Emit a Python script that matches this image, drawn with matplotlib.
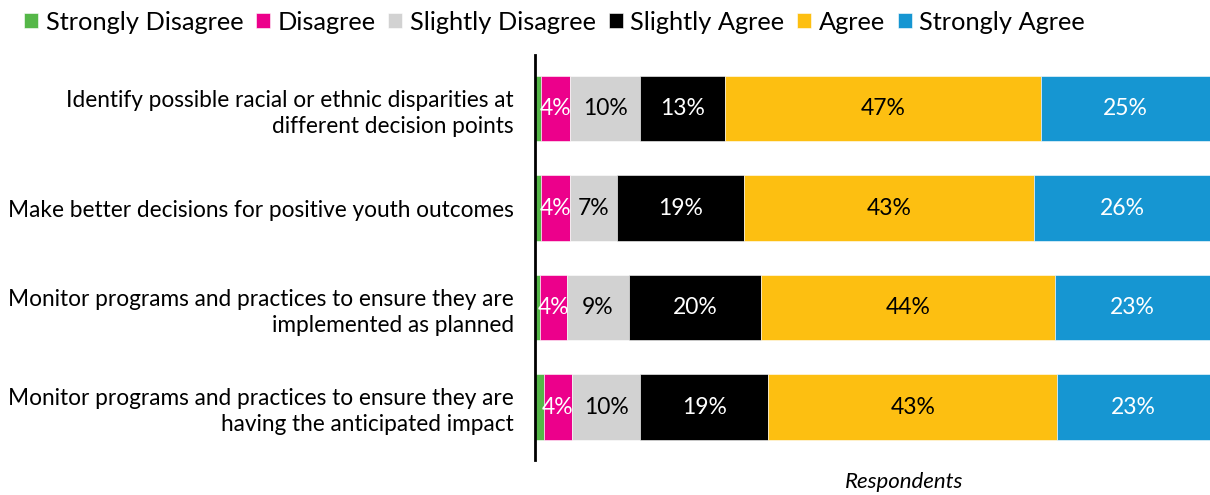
import matplotlib
import matplotlib.pyplot as plt
matplotlib.use('Agg')

plt.rcParams['font.family'] = ['Lato', 'DejaVu Sans']

statements = ['Identify possible racial or ethnic disparities at\ndifferent decision points',
              'Make better decisions for positive youth outcomes',
              'Monitor programs and practices to ensure they are\nimplemented as planned',
              'Monitor programs and practices to ensure they are\nhaving the anticipated impact']
responses = ['Strongly Disagree', 'Disagree', 'Slightly Disagree',
             'Slightly Agree', 'Agree', 'Strongly Agree']

# percent of respondents, one list per response, rows in statement order
strongly_disagree = [0.9, 0.9, 0.7, 1.3]
disagree = [4.3, 4.3, 4.0, 4.2]
slightly_disagree = [10.4, 7.0, 9.2, 10.1]
slightly_agree = [12.6, 18.8, 19.6, 19.0]
agree = [46.7, 43.0, 43.6, 42.8]
strongly_agree = [25.1, 26.0, 22.9, 22.6]

colors = ['#55b748', '#ec008b', '#d2d2d2', '#000000', '#fdbf11', '#1696d2']
text_colors = [None, 'white', 'black', 'white', 'black', 'white']

series = [strongly_disagree, disagree, slightly_disagree,
          slightly_agree, agree, strongly_agree]

fig = plt.figure(figsize=(12.1, 4.95), dpi=100)
ax = fig.add_axes([0.442, 0.071, 0.558, 0.818])

y = list(range(len(statements)))
left = [0.0] * len(statements)
handles = []
for vals, name, col, tcol in zip(series, responses, colors, text_colors):
    bars = ax.barh(y, vals, left=left, height=0.66, color=col,
                   edgecolor='white', linewidth=0.4, label=name)
    handles.append(bars)
    if tcol is not None:
        for yi, l, v in zip(y, left, vals):
            ax.text(l + v / 2, yi, f'{v:.0f}%', ha='center', va='center',
                    color=tcol, fontsize=16.5)
    left = [a + b for a, b in zip(left, vals)]

ax.set_xlim(0, 100)
ax.set_ylim(3.53, -0.54)
ax.set_yticks(y)
ax.set_yticklabels(statements, fontsize=16.3, linespacing=1.3)
ax.tick_params(axis='y', length=0, pad=15)
ax.set_xticks([])
for s in ['top', 'right', 'bottom']:
    ax.spines[s].set_visible(False)
ax.spines['left'].set_linewidth(2)
ax.set_xlabel('Respondents', fontsize=16, style='italic')
ax.xaxis.set_label_coords(0.547, -0.03)
ax.xaxis.label.set_va('top')

fig.legend(handles=handles, labels=responses, loc='upper left',
           bbox_to_anchor=(0.001, 1.025), ncol=6, frameon=False, fontsize=18.3,
           handlelength=0.55, handleheight=0.55, handletextpad=0.3,
           columnspacing=0.5)

plt.savefig('out.png', dpi=100)
